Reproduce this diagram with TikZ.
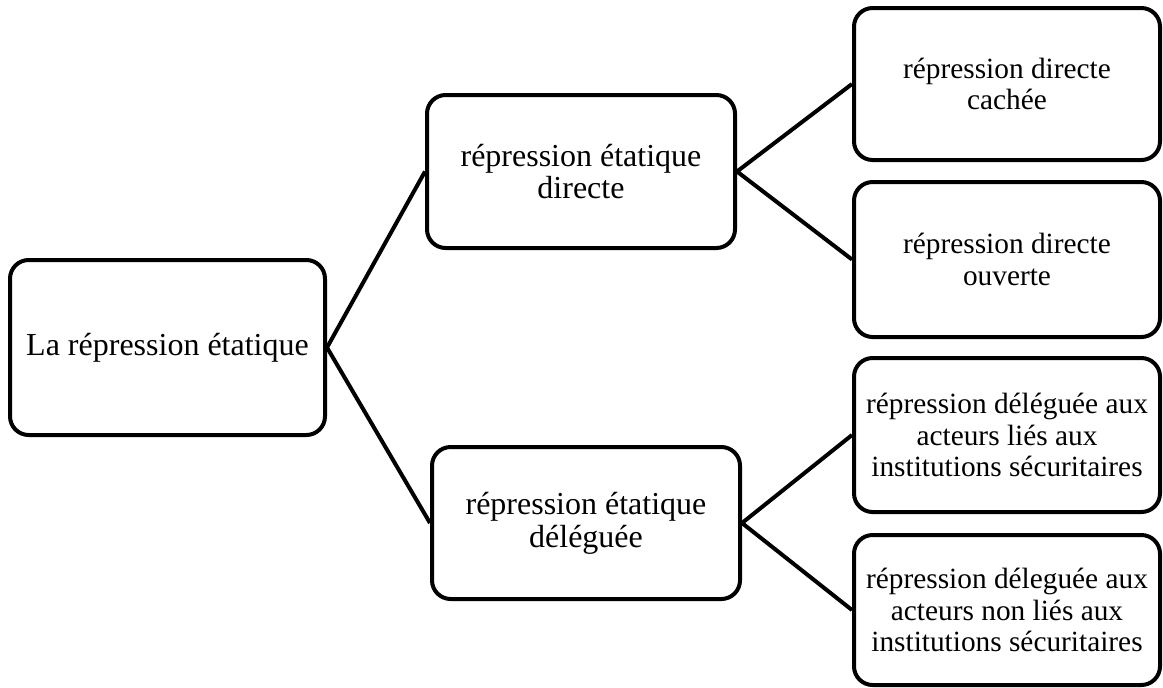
\documentclass[tikz,border=0pt]{standalone}
\usepackage{fontspec}
\setmainfont{Liberation Serif}
\usepackage{tikz}
\usetikzlibrary{positioning}

\begin{document}
\begin{tikzpicture}[x=0.75pt, y=-0.75pt,
        box/.style={draw, line width=3pt, rounded corners=14pt, align=center,
            inner sep=0pt, font=\fontsize{22}{23.5}\selectfont},
        bigbox/.style={box, font=\fontsize{24}{24.5}\selectfont},
        link/.style={line width=3pt}]
            \useasboundingbox (0,0) rectangle (1163,687);
            % 1. Racine
            \node[bigbox, minimum width=315*0.75pt, minimum height=175*0.75pt] (root) at (167.5,347.5) {La répression étatique};
            
            % 2. Deux formes
            \node[bigbox, minimum width=308*0.75pt, minimum height=153*0.75pt] (dir) at (581,171.5) {répression étatique\\directe};
            \node[bigbox, minimum width=308*0.75pt, minimum height=152*0.75pt] (del) at (586,523) {répression étatique\\déléguée};
            
            % 3. Sous-formes
            \node[box, minimum width=306*0.75pt, minimum height=152*0.75pt] (cach) at (1007,84) {répression directe\\cachée};
            \node[box, minimum width=306*0.75pt, minimum height=155*0.75pt] (ouv) at (1007,259.5) {répression directe\\ouverte};
            \node[box, minimum width=306*0.75pt, minimum height=154*0.75pt] (lies) at (1007,435) {répression déléguée aux\\acteurs liés aux\\institutions sécuritaires};
            \node[box, minimum width=306*0.75pt, minimum height=150*0.75pt] (nonlies) at (1007,610) {répression déleguée aux\\acteurs non liés aux\\institutions sécuritaires};
            
            % 4. Liaisons
            \draw[link] (dir.west) -- (root.east) -- (del.west);
            \draw[link] (cach.west) -- (dir.east) -- (ouv.west);
            \draw[link] (lies.west) -- (del.east) -- (nonlies.west);
\end{tikzpicture}
\end{document}
